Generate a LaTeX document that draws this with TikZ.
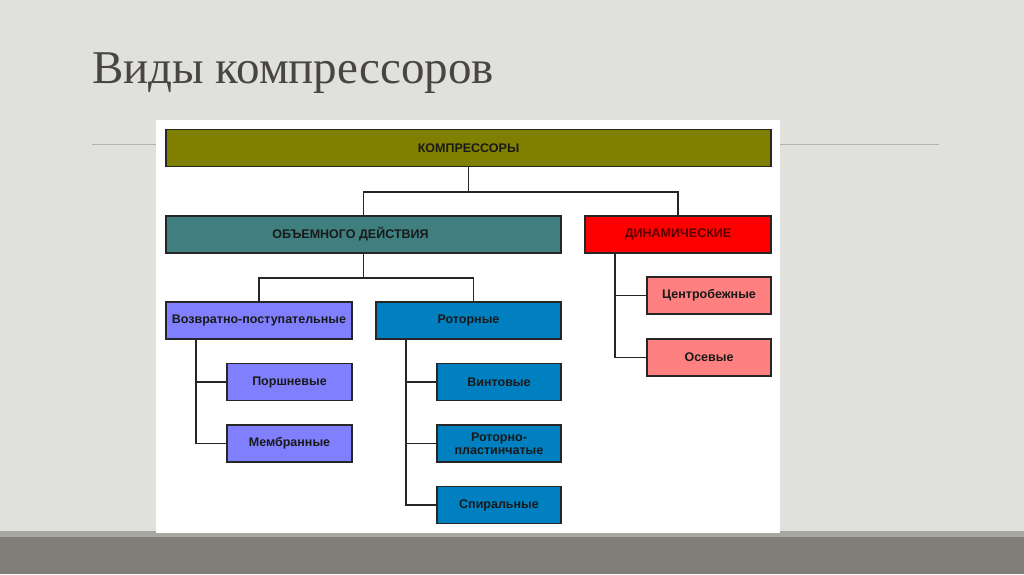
\documentclass[tikz,border=0pt]{standalone}
\usepackage{fontspec}
\setmainfont{Liberation Sans}
\newfontfamily\titlefont{Liberation Serif}
\definecolor{slidebg}{HTML}{E0E0DC}
\definecolor{bandlight}{HTML}{A8A8A2}
\definecolor{banddark}{HTML}{7F7F77}
\definecolor{titlegrey}{HTML}{4A4545}
\definecolor{olivebox}{HTML}{808000}
\definecolor{tealbox}{HTML}{3F7F7F}
\definecolor{redbox}{HTML}{FF0000}
\definecolor{pinkbox}{HTML}{FF8080}
\definecolor{violetbox}{HTML}{8080FF}
\definecolor{bluebox}{HTML}{0080C0}
\definecolor{dyntext}{HTML}{5A0000}
\begin{document}
\begin{tikzpicture}[x=1pt, y=-1pt,
  box/.style={draw=black!85, line width=1.6pt, minimum height=37pt, inner sep=0pt,
    font=\fontsize{12.5}{13}\selectfont\bfseries, align=center, text=black!90},
  link/.style={line width=1.8pt, draw=black!85}]
% Slide background
\fill[slidebg] (0,0) rectangle (1024,574);
\fill[bandlight] (0,531) rectangle (1024,537);
\fill[banddark] (0,537) rectangle (1024,574);
\draw[black!30, line width=0.8pt] (92,144) -- (939,144);
\fill[white] (156,120) rectangle (780,533);
% Title
\node[anchor=base west, inner sep=0pt, text=titlegrey,
  font=\titlefont\fontsize{47}{48}\selectfont] (title) at (92,83) {Виды компрессоров};
% Top level
\node[box, fill=olivebox, minimum width=605pt] (komp) at (468.5,148) {КОМПРЕССОРЫ};
% Second level
\node[box, fill=tealbox, minimum width=395pt] (obem) at (363.5,234.5) {ОБЪЕМНОГО ДЕЙСТВИЯ\hspace*{26pt}};
\node[box, fill=redbox, minimum width=186pt, text=dyntext] (dyn) at (678,234.5) {ДИНАМИЧЕСКИЕ};
% Third level
\node[box, fill=violetbox, minimum width=186pt] (vozv) at (259,320.5) {Возвратно-поступательные};
\node[box, fill=bluebox, minimum width=185pt] (rotor) at (468.5,320.5) {Роторные};
\node[box, fill=pinkbox, minimum width=124pt] (centr) at (709,295.5) {Центробежные};
\node[box, fill=pinkbox, minimum width=124pt] (osev) at (709,357.5) {Осевые};
% Leaves
\node[box, fill=violetbox, minimum width=125pt] (porsh) at (289.5,382) {Поршневые};
\node[box, fill=violetbox, minimum width=125pt] (membr) at (289.5,443.5) {Мембранные};
\node[box, fill=bluebox, minimum width=124pt] (vint) at (499,382) {Винтовые};
\node[box, fill=bluebox, minimum width=124pt] (rotpl) at (499,443.5) {Роторно-\\пластинчатые};
\node[box, fill=bluebox, minimum width=124pt] (spir) at (499,505) {Спиральные};
% Connections
\draw[link] (komp.south) -- ++(0,25) -| (obem.north);
\draw[link] (komp.south) -- ++(0,25) -| (dyn.north);
\draw[link] (obem.south) -- ++(0,24) -| (vozv.north);
\draw[link] (obem.south) -- ++(0,24) -| ([xshift=5pt]rotor.north);
\draw[link] ([xshift=31pt]vozv.south west) |- (porsh.west);
\draw[link] ([xshift=31pt]vozv.south west) |- (membr.west);
\draw[link] ([xshift=31pt]rotor.south west) |- (vint.west);
\draw[link] ([xshift=31pt]rotor.south west) |- (rotpl.west);
\draw[link] ([xshift=31pt]rotor.south west) |- (spir.west);
\draw[link] ([xshift=31pt]dyn.south west) |- (centr.west);
\draw[link] ([xshift=31pt]dyn.south west) |- (osev.west);
\end{tikzpicture}
\end{document}
